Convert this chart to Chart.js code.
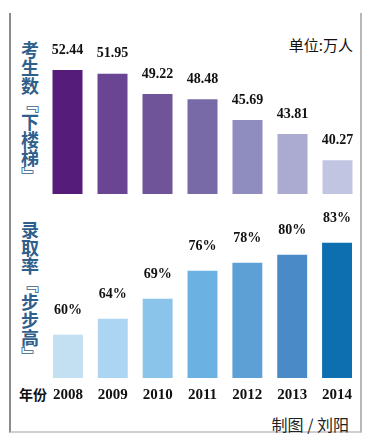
<!DOCTYPE html>
<html lang="zh">
<head>
  <meta charset="UTF-8" />
  <title>考生数下楼梯 录取率步步高</title>
  <script src="https://cdn.jsdelivr.net/npm/chart.js"></script>
  <style>
    body { margin: 0; background: #fff; }
    .page { position: relative; width: 367px; height: 435px; overflow: hidden; font-family: "Noto Sans CJK SC", sans-serif; }
    .frame { position: absolute; left: 9px; top: 13px; width: 349px; height: 418px;
      border-left: 2px solid #8c8c8c; border-right: 2px solid #b8b8b8; border-bottom: 2px solid #d0d0d0; }
    .side { position: absolute; left: 20px; width: 20px; font-size: 18px; line-height: 18px; text-align: center;
      color: #2f5f8c; font-weight: bold; }
    .side span { display: block; height: 18px; }
    .unit { position: absolute; right: 14px; top: 34px; font-size: 15px; color: #111; }
    .year-title { position: absolute; left: 19px; top: 384px; font-size: 14px; font-weight: bold; color: #111; }
    .credit { position: absolute; right: 18px; top: 412px; font-size: 16px; color: #222; }
    .box { position: absolute; left: 45px; width: 315px; }
  </style>
</head>
<body>
<div class="page">
  <div class="frame"></div>
  <div class="side" id="title1" style="top:40px"></div>
  <div class="side" id="title2" style="top:220px"></div>
  <div class="unit">单位:万人</div>
  <div class="year-title">年份</div>
  <div class="credit">制图 / 刘阳</div>
  <div class="box" style="top:20px;height:174px"><canvas id="examChart"></canvas></div>
  <div class="box" style="top:200px;height:210px"><canvas id="rateChart"></canvas></div>
</div>

<script>
  const years = ["2008", "2009", "2010", "2011", "2012", "2013", "2014"];
  const examinees = [52.44, 51.95, 49.22, 48.48, 45.69, 43.81, 40.27];
  const examLabels = ["52.44", "51.95", "49.22", "48.48", "45.69", "43.81", "40.27"];
  const admitRate = [60, 64, 69, 76, 78, 80, 83];
  const rateLabels = ["60%", "64%", "69%", "76%", "78%", "80%", "83%"];

  const purples = ["#561c7a", "#6a4593", "#70549a", "#776aa6", "#8f8dbf", "#abaad0", "#c2c5e1"];
  const blues = ["#c3e0f3", "#abd5f2", "#8bc4ea", "#6bb2e2", "#5da0d6", "#4a8bc7", "#0e6fb0"];

  // vertical titles, one glyph per line (brackets in their vertical forms)
  function stack(id, chars) {
    document.getElementById(id).innerHTML = chars.map(c => "<span>" + c + "</span>").join("");
  }
  stack("title1", ["考", "生", "数", "﹃", "下", "楼", "梯", "﹄"]);
  stack("title2", ["录", "取", "率", "﹃", "步", "步", "高", "﹄"]);

  // draws the number above each bar
  const valueLabels = {
    id: "valueLabels",
    afterDatasetsDraw(chart, args, opts) {
      const ctx = chart.ctx;
      ctx.save();
      ctx.font = "bold 14px 'Liberation Serif', serif";
      ctx.fillStyle = "#111";
      ctx.textAlign = "center";
      ctx.textBaseline = "middle";
      chart.getDatasetMeta(0).data.forEach((bar, i) => {
        ctx.fillText(opts.labels[i], bar.x, bar.y - opts.gap);
      });
      ctx.restore();
    }
  };

  new Chart(document.getElementById("examChart"), {
    type: "bar",
    data: {
      labels: years,
      datasets: [{ data: examinees, backgroundColor: purples, barPercentage: 0.667, categoryPercentage: 1 }]
    },
    options: {
      responsive: true,
      maintainAspectRatio: false,
      animation: false,
      layout: { padding: 0 },
      plugins: { legend: { display: false }, tooltip: { enabled: false },
        valueLabels: { labels: examLabels, gap: 20 } },
      scales: {
        x: { display: false },
        y: { display: false, min: 35.7, max: 59.2 }
      }
    },
    plugins: [valueLabels]
  });

  new Chart(document.getElementById("rateChart"), {
    type: "bar",
    data: {
      labels: years,
      datasets: [{ data: admitRate, backgroundColor: blues, barPercentage: 0.667, categoryPercentage: 1 }]
    },
    options: {
      responsive: true,
      maintainAspectRatio: false,
      animation: false,
      layout: { padding: 0 },
      plugins: { legend: { display: false }, tooltip: { enabled: false },
        valueLabels: { labels: rateLabels, gap: 24 } },
      scales: {
        x: {
          grid: { display: false, drawTicks: false },
          border: { display: false },
          ticks: { color: "#111", padding: 8, font: { family: "'Liberation Serif', serif", size: 15, weight: "bold" } },
          afterFit: s => { s.height = 32; }
        },
        y: { display: false, min: 49.2, max: 93.7 }
      }
    },
    plugins: [valueLabels]
  });
</script>
</body>
</html>
